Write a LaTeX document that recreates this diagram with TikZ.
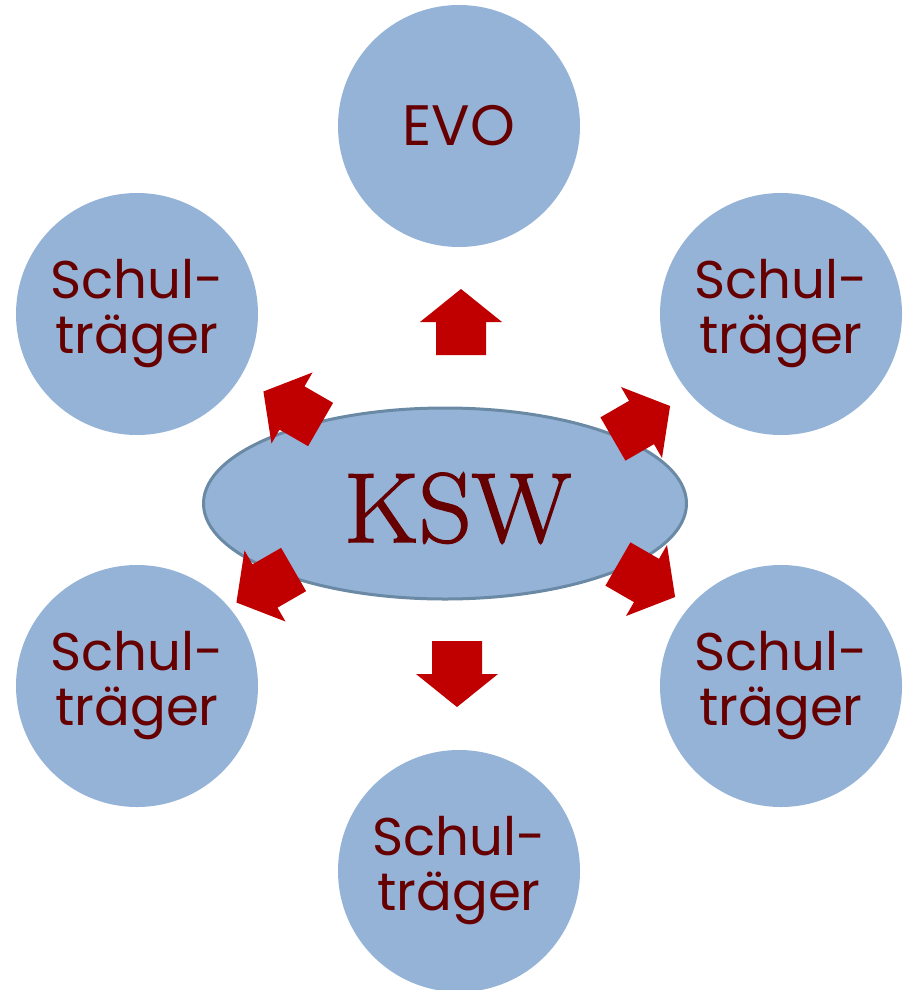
\documentclass[tikz,border=0pt]{standalone}
\usepackage{fontspec}
\newfontfamily\gothic{Poppins}
\newfontfamily\kswfont[FakeBold=1.6]{Latin Modern Roman}
\definecolor{circfill}{HTML}{95B3D7}
\definecolor{ellborder}{HTML}{6A89A4}
\definecolor{txtred}{HTML}{660000}
\definecolor{arrowred}{HTML}{C00000}
\tikzset{
  circ/.style={circle, fill=circfill, minimum size=242pt, inner sep=0pt,
    text=txtred, align=center, font=\gothic\fontsize{53}{55}\selectfont},
  hub/.style={ellipse, fill=circfill, draw=ellborder, line width=3pt,
    minimum width=483pt, minimum height=191pt, inner sep=0pt},
  kswtext/.style={text=txtred, inner sep=0pt, font=\kswfont\fontsize{99}{100}\selectfont},
  blockarrow/.pic={\fill[arrowred] (-33,-25) -- (0,-25) -- (0,-41) -- (33,0) -- (0,41) -- (0,25) -- (-33,25) -- cycle;}
}
\usetikzlibrary{shapes.geometric}
\begin{document}
\begin{tikzpicture}[x=1pt,y=-1pt]
\useasboundingbox (0,0) rectangle (909,990);
\node[circ, font=\gothic\fontsize{57}{60}\selectfont] (evo) at (459,126) {EVO};
\node[circ] (tl) at (137,314) {Schul-\\träger};
\node[circ] (tr) at (781,314) {Schul-\\träger};
\node[circ] (bl) at (137,686) {Schul-\\träger};
\node[circ] (br) at (781,686) {Schul-\\träger};
\node[circ] (bot) at (459,871) {Schul-\\träger};
\node[hub] (ksw) at (445,503.5) {};
\node[kswtext, anchor=base] (kswlabel) at (457.5,542) {\scalebox{1.05}[1]{KSW}};
\pic[rotate=90] (aup) at (461,322) {blockarrow};
\pic[rotate=270] (adown) at (457,674) {blockarrow};
\pic[rotate=150] (aul) at (292,408) {blockarrow};
\pic[rotate=30] (aur) at (641.5,422.5) {blockarrow};
\pic[rotate=210] (all) at (265,586) {blockarrow};
\pic[rotate=330] (alr) at (646.5,580.5) {blockarrow};
\end{tikzpicture}
\end{document}
